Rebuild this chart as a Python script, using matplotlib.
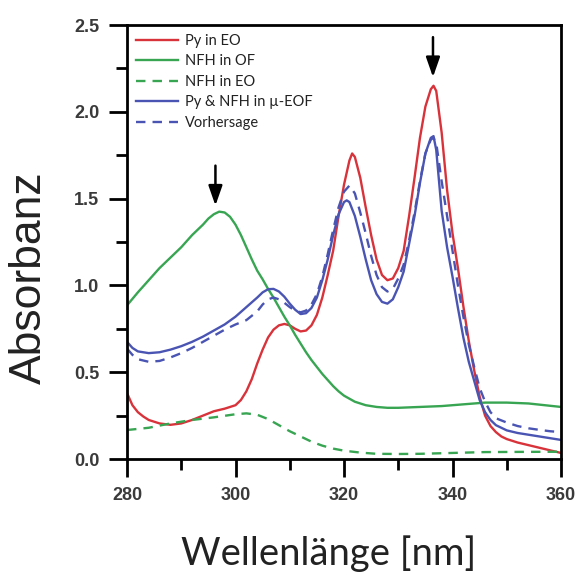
import matplotlib
matplotlib.use('Agg')
import matplotlib.pyplot as plt
from matplotlib.ticker import MultipleLocator, FormatStrFormatter

plt.rcParams['font.family'] = ['Liberation Sans', 'DejaVu Sans']

# absorbance spectra, wavelength in nm
wl_py = [280, 281, 282, 283, 284, 286, 288, 290, 292, 294, 296, 298, 300, 301, 302, 303, 304, 305,
         306, 307, 308, 309, 310, 311, 312, 313, 314, 315, 316, 317, 318, 319, 320, 321, 321.5, 322,
         323, 324, 325, 326, 327, 328, 329, 330, 331, 332, 333, 334, 335, 336, 336.5, 337, 338, 339,
         340, 341, 342, 343, 344, 345, 346, 347, 348, 349, 350, 352, 354, 356, 358, 360]
a_py = [0.38, 0.31, 0.27, 0.245, 0.225, 0.205, 0.197, 0.205, 0.225, 0.25, 0.275, 0.29, 0.31, 0.34,
        0.39, 0.46, 0.55, 0.63, 0.70, 0.745, 0.77, 0.778, 0.77, 0.75, 0.735, 0.74, 0.77, 0.83, 0.93,
        1.06, 1.20, 1.40, 1.58, 1.72, 1.76, 1.74, 1.62, 1.45, 1.29, 1.15, 1.06, 1.03, 1.04, 1.10,
        1.20, 1.40, 1.62, 1.85, 2.03, 2.13, 2.15, 2.12, 1.88, 1.55, 1.30, 1.10, 0.88, 0.68, 0.51,
        0.36, 0.25, 0.19, 0.155, 0.13, 0.115, 0.095, 0.08, 0.065, 0.05, 0.035]

wl_nfh_of = [280, 282, 284, 286, 288, 290, 292, 294, 295, 296, 297, 298, 299, 300, 301, 302, 303,
             304, 305, 306, 307, 308, 309, 310, 311, 312, 313, 314, 315, 316, 317, 318, 319, 320,
             322, 324, 326, 328, 330, 334, 338, 342, 346, 350, 354, 357, 360]
a_nfh_of = [0.885, 0.96, 1.03, 1.10, 1.16, 1.22, 1.29, 1.35, 1.385, 1.41, 1.425, 1.42, 1.395, 1.35,
            1.29, 1.22, 1.15, 1.085, 1.035, 0.98, 0.93, 0.875, 0.82, 0.77, 0.715, 0.665, 0.615, 0.57,
            0.53, 0.49, 0.455, 0.42, 0.39, 0.365, 0.33, 0.31, 0.30, 0.295, 0.295, 0.30, 0.305, 0.315,
            0.325, 0.325, 0.32, 0.31, 0.30]

wl_nfh_eo = [280, 284, 288, 292, 296, 300, 302, 304, 306, 308, 310, 312, 314, 316, 318, 320, 323,
             326, 330, 334, 340, 346, 352, 360]
a_nfh_eo = [0.167, 0.18, 0.205, 0.225, 0.24, 0.258, 0.263, 0.255, 0.23, 0.195, 0.16, 0.13, 0.10,
            0.077, 0.06, 0.048, 0.037, 0.03, 0.029, 0.03, 0.035, 0.04, 0.041, 0.042]

wl_mix = [280, 281, 282, 284, 286, 288, 290, 292, 294, 296, 298, 300, 302, 304, 305, 306, 307, 308,
          309, 310, 311, 312, 313, 314, 315, 316, 317, 318, 319, 320, 320.5, 321, 322, 323, 324,
          325, 326, 327, 328, 329, 330, 331, 332, 333, 334, 335, 336, 336.5, 337, 338, 339, 340,
          341, 342, 343, 344, 345, 346, 347, 348, 350, 352, 354, 356, 358, 360]
a_mix = [0.675, 0.64, 0.62, 0.61, 0.615, 0.63, 0.65, 0.675, 0.705, 0.74, 0.775, 0.82, 0.875, 0.93,
         0.96, 0.978, 0.98, 0.965, 0.935, 0.895, 0.86, 0.835, 0.84, 0.87, 0.93, 1.03, 1.15, 1.29,
         1.41, 1.48, 1.49, 1.48, 1.40, 1.28, 1.15, 1.03, 0.95, 0.905, 0.895, 0.92, 0.99, 1.08, 1.24,
         1.40, 1.59, 1.76, 1.85, 1.86, 1.78, 1.43, 1.22, 1.05, 0.87, 0.70, 0.56, 0.45, 0.34, 0.27,
         0.225, 0.195, 0.165, 0.15, 0.14, 0.13, 0.12, 0.11]

wl_pred = [280, 281, 282, 284, 286, 288, 290, 292, 294, 296, 298, 300, 302, 304, 305, 306, 307, 308,
           309, 310, 311, 312, 313, 314, 315, 316, 317, 318, 319, 320, 321, 322, 323, 324, 325, 326,
           327, 328, 329, 330, 331, 332, 333, 334, 335, 336, 336.5, 337, 338, 339, 340, 341, 342,
           343, 344, 345, 346, 347, 348, 350, 352, 354, 356, 358, 360]
a_pred = [0.636, 0.60, 0.575, 0.56, 0.565, 0.585, 0.61, 0.64, 0.675, 0.71, 0.745, 0.775, 0.80, 0.85,
          0.89, 0.92, 0.93, 0.92, 0.90, 0.875, 0.855, 0.845, 0.855, 0.89, 0.95, 1.05, 1.18, 1.32,
          1.45, 1.54, 1.575, 1.53, 1.42, 1.30, 1.17, 1.06, 0.99, 0.965, 0.98, 1.04, 1.12, 1.26, 1.42,
          1.60, 1.76, 1.84, 1.85, 1.82, 1.60, 1.40, 1.20, 1.00, 0.82, 0.66, 0.53, 0.41, 0.33, 0.27,
          0.235, 0.21, 0.19, 0.177, 0.168, 0.16, 0.155]

labels = ['Py in EO', 'NFH in OF', 'NFH in EO', 'Py & NFH in µ-EOF', 'Vorhersage']

red = '#d8333b'
green = '#38a552'
blue = '#4a55b3'

fig = plt.figure(figsize=(5.81, 5.75), dpi=100)
ax = fig.add_axes([0.2186, 0.2017, 0.747, 0.7548])

lw = 1.7
ax.plot(wl_py, a_py, color=red, lw=lw, label=labels[0])
ax.plot(wl_nfh_of, a_nfh_of, color=green, lw=lw, label=labels[1])
ax.plot(wl_nfh_eo, a_nfh_eo, color=green, lw=lw, dashes=(4, 3), label=labels[2])
ax.plot(wl_mix, a_mix, color=blue, lw=lw, label=labels[3])
ax.plot(wl_pred, a_pred, color=blue, lw=lw, dashes=(4, 3), label=labels[4])

# arrows pointing at the two band maxima
arrow = dict(arrowstyle='-|>,head_length=1.2,head_width=0.42', lw=1.8, color='black',
             shrinkA=0, shrinkB=0)
ax.annotate('', xy=(296.3, 1.46), xytext=(296.3, 1.69), arrowprops=arrow)
ax.annotate('', xy=(336.4, 2.20), xytext=(336.4, 2.43), arrowprops=arrow)

ax.set_xlim(280, 360)
ax.set_ylim(0, 2.5)
ax.xaxis.set_major_locator(MultipleLocator(20))
ax.xaxis.set_minor_locator(MultipleLocator(10))
ax.yaxis.set_major_locator(MultipleLocator(0.5))
ax.yaxis.set_minor_locator(MultipleLocator(0.25))
ax.yaxis.set_major_formatter(FormatStrFormatter('%.1f'))

for s in ax.spines.values():
    s.set_linewidth(2.0)
ax.tick_params(which='major', direction='out', length=13, width=2.0, pad=7,
               labelsize=13, labelcolor='#3a3a3a')
ax.tick_params(which='minor', direction='out', length=8, width=2.0)
for t in ax.get_xticklabels() + ax.get_yticklabels():
    t.set_fontweight('bold')

ax.set_xlabel('Wellenlänge [nm]', fontfamily='Lato', fontsize=27.5, color='#222222',
              ha='center', va='baseline')
ax.xaxis.set_label_coords(0.465, -0.244)
ax.set_ylabel('Absorbanz', fontsize=32, color='#222222', ha='center', va='center')
ax.yaxis.set_label_coords(-0.225, 0.418)

leg = ax.legend(loc='upper left', frameon=False, prop={'family': 'Lato', 'size': 10.5},
                handlelength=2.9, handletextpad=0.5, labelspacing=0.45,
                borderaxespad=0.3, borderpad=0.3)
for t in leg.get_texts():
    t.set_color('#222222')

fig.savefig('out.png', dpi=100)
